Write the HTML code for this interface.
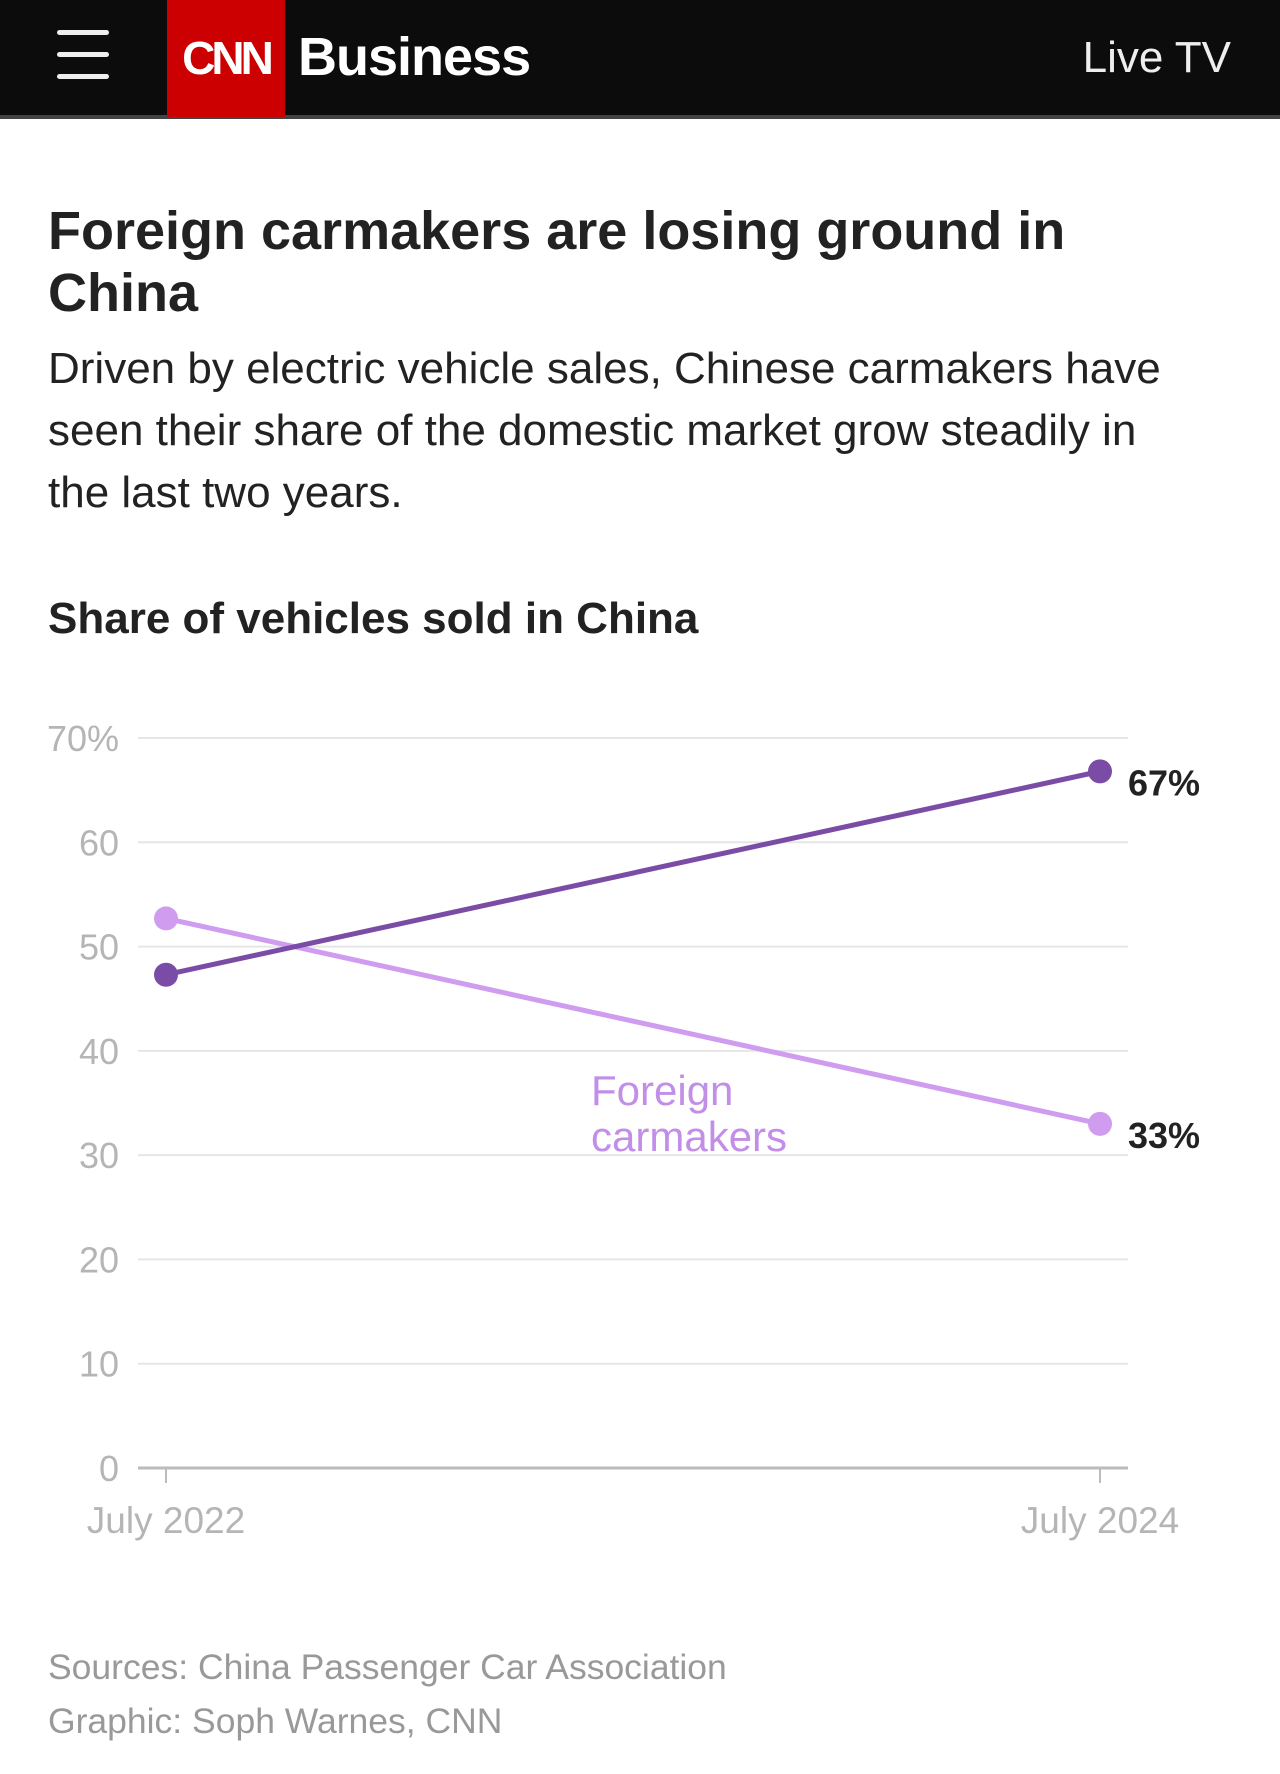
<!DOCTYPE html>
<html><head><meta charset="utf-8"><style>
body{margin:0;width:1280px;height:1774px;background:#fff;font-family:"Liberation Sans",sans-serif;overflow:hidden;position:relative}
.hdr{position:absolute;left:0;top:0;width:1280px;height:115px;background:#0c0c0c}
.hdr2{position:absolute;left:0;top:115px;width:1280px;height:4px;background:#444}
.t{position:absolute;margin:0;white-space:nowrap}
</style></head><body>
<div class="hdr"></div>
<div class="hdr2"></div>
<div style="position:absolute;left:57px;top:30px;width:52px;height:50px">
 <div style="position:absolute;top:0;width:52px;height:5px;border-radius:3px;background:#eee"></div>
 <div style="position:absolute;top:22px;width:52px;height:5px;border-radius:3px;background:#eee"></div>
 <div style="position:absolute;top:44px;width:52px;height:5px;border-radius:3px;background:#eee"></div>
</div>
<div style="position:absolute;left:167px;top:0;width:118px;height:117px;background:#cc0000;color:#fff;font:bold 46px 'Liberation Sans',sans-serif;letter-spacing:-4px;line-height:117px;text-align:center">CNN</div>
<div class="t" style="left:298px;top:26px;color:#fff;font-weight:bold;font-size:54px;letter-spacing:-1px">Business</div>
<div class="t" style="right:49px;top:33px;color:#eee;font-size:44px">Live TV</div>

<h1 class="t" style="left:48px;top:200px;font-size:54px;line-height:62px;color:#222;font-weight:bold">Foreign carmakers are losing ground in<br>China</h1>
<p class="t" style="left:48px;top:338px;font-size:44px;line-height:62px;color:#222">Driven by electric vehicle sales, Chinese carmakers have<br>seen their share of the domestic market grow steadily in<br>the last two years.</p>
<div class="t" style="left:48px;top:594px;font-size:44px;font-weight:bold;color:#222">Share of vehicles sold in China</div>

<svg id="chart" width="1280" height="1774" style="position:absolute;left:0;top:0" font-family="Liberation Sans, sans-serif"></svg>

<div class="t" style="left:48px;top:1640px;font-size:35.5px;color:#999;line-height:54px">Sources: China Passenger Car Association<br>Graphic: Soph Warnes, CNN</div>

<script>
const categories=["July 2022","July 2024"];
const chineseValues=[47.3,66.8];
const foreignValues=[52.7,33];
const yTicks=[0,10,20,30,40,50,60,70];
const yTickLabels=["0","10","20","30","40","50","60","70%"];
const svg=document.getElementById('chart');
const NS='http://www.w3.org/2000/svg';
const y=v=>1468-(v/70)*730;
const x=i=>166+i*(1100-166)/(categories.length-1);
function mk(t,a){const e=document.createElementNS(NS,t);for(const k in a)e.setAttribute(k,a[k]);svg.appendChild(e);return e;}
yTicks.forEach((v,i)=>{
 const l=mk('line',{x1:138,x2:1128,y1:y(v),y2:y(v),stroke:v===0?'#bbb':'#e6e6e6','stroke-width':v===0?3:2});
 
 
 const t=mk('text',{x:119,y:y(v)+13,'text-anchor':'end','font-size':36,fill:'#b5b5b5'});t.textContent=yTickLabels[i];
 
 
});
categories.forEach((c,i)=>{
 const tk=mk('line',{x1:x(i),x2:x(i),y1:1468,y2:1483,stroke:'#bbb','stroke-width':2});
 
 
 const t=mk('text',{x:x(i),y:1533,'text-anchor':'middle','font-size':37,fill:'#b5b5b5'});t.textContent=c;
 
 
});
function series(vals,color,name){
 const pl=mk('polyline',{points:vals.map((v,i)=>x(i)+','+y(v)).join(' '),fill:'none',stroke:color,'stroke-width':5});
 
 
 vals.forEach((v,i)=>{const c=mk('circle',{cx:x(i),cy:y(v),r:12,fill:color});
  
  });
 const t=mk('text',{x:1128,y:y(vals[vals.length-1])+24,'font-size':36,'font-weight':'bold',fill:'#222'});
 t.textContent=Math.round(vals[vals.length-1])+'%';
 
 
}
series(foreignValues,'#cf9cf0','foreign');
series(chineseValues,'#7b4ca6','chinese');
const fl=mk('text',{x:591,y:1105,'font-size':42,fill:'#c28ee8'});
fl.innerHTML='<tspan x="591">Foreign</tspan><tspan x="591" dy="46">carmakers</tspan>';


</script>
</body></html>
